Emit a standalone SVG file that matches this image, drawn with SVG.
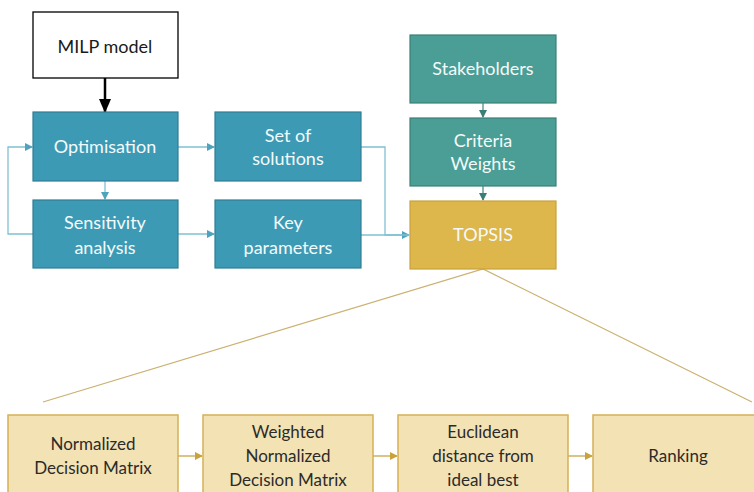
<svg xmlns="http://www.w3.org/2000/svg" width="754" height="492" viewBox="0 0 754 492">
<style>
text{font-family:Lato,"Open Sans","Liberation Sans",sans-serif;font-size:18px;text-anchor:middle}
.w{fill:#f4fafb}
.d{fill:#2b2b2b;font-size:17px}
.blue{fill:#3d9ab5;stroke:#2f7d93;stroke-width:1.2}
.teal{fill:#4a9e95;stroke:#3b8078;stroke-width:1.2}
.gold{fill:#ddb64c;stroke:#c9a23a;stroke-width:1.2}
.cream{fill:#f3e2b3;stroke:#d6b054;stroke-width:1.5}
.cb{fill:none;stroke:#7fc0d3;stroke-width:1.3}
.ct{fill:none;stroke:#4e8f89;stroke-width:1.3}
.cg{fill:none;stroke:#c9a546;stroke-width:1.3}
.zl{fill:none;stroke:#cbb170;stroke-width:1.2}
</style>
<defs>
<marker id="ab" markerWidth="8" markerHeight="8" refX="7" refY="4" orient="auto" markerUnits="userSpaceOnUse"><path d="M0,0 L8,4 L0,8 Z" fill="#4fa3bd"/></marker>
<marker id="at" markerWidth="8" markerHeight="8" refX="7" refY="4" orient="auto" markerUnits="userSpaceOnUse"><path d="M0,0 L8,4 L0,8 Z" fill="#3b7d77"/></marker>
<marker id="ag" markerWidth="8" markerHeight="8" refX="7" refY="4" orient="auto" markerUnits="userSpaceOnUse"><path d="M0,0 L8,4 L0,8 Z" fill="#c9a23a"/></marker>
<marker id="ak" markerWidth="14" markerHeight="12" refX="13" refY="6" orient="auto" markerUnits="userSpaceOnUse"><path d="M0,0 L14,6 L0,12 Z" fill="#000"/></marker>
</defs>
<g id="connectors">
<line x1="105" y1="78" x2="105" y2="112" stroke="#000" stroke-width="2.5" marker-end="url(#ak)"/>
<line class="cb" x1="105" y1="181" x2="105" y2="199" marker-end="url(#ab)"/>
<polyline class="cb" points="33,234 8,234 8,147 32,147" marker-end="url(#ab)"/>
<line class="cb" x1="178" y1="147" x2="214" y2="147" marker-end="url(#ab)"/>
<line class="cb" x1="178" y1="234" x2="214" y2="234" marker-end="url(#ab)"/>
<polyline class="cb" points="361,147 385,147 385,235 409,235" marker-end="url(#ab)"/>
<line class="cb" x1="361" y1="235" x2="409" y2="235"/>
<line class="ct" x1="483" y1="103" x2="483" y2="117" marker-end="url(#at)"/>
<line class="ct" x1="483" y1="186" x2="483" y2="200" marker-end="url(#at)"/>
<polyline class="zl" points="43,402 483,269 752,402"/>
<line class="cg" x1="178" y1="456" x2="202" y2="456" marker-end="url(#ag)"/>
<line class="cg" x1="373" y1="456" x2="397" y2="456" marker-end="url(#ag)"/>
<line class="cg" x1="568" y1="456" x2="592" y2="456" marker-end="url(#ag)"/>
</g>
<g id="milp"><rect x="33" y="12" width="145" height="66" fill="#fff" stroke="#000" stroke-width="1.3"/><text x="105" y="53" style="fill:#1a1a1a">MILP model</text></g>
<g id="optimisation"><rect class="blue" x="33" y="112" width="145" height="69"/><text class="w" x="105" y="153">Optimisation</text></g>
<g id="set-of-solutions"><rect class="blue" x="215" y="112" width="146" height="69"/><text class="w" x="288" y="142">Set of</text><text class="w" x="288" y="165">solutions</text></g>
<g id="sensitivity"><rect class="blue" x="33" y="200" width="145" height="68"/><text class="w" x="105" y="229">Sensitivity</text><text class="w" x="105" y="254">analysis</text></g>
<g id="key-parameters"><rect class="blue" x="215" y="200" width="146" height="68"/><text class="w" x="288" y="229">Key</text><text class="w" x="288" y="254">parameters</text></g>
<g id="stakeholders"><rect class="teal" x="410" y="35" width="146" height="68"/><text class="w" x="483" y="75">Stakeholders</text></g>
<g id="criteria-weights"><rect class="teal" x="410" y="118" width="146" height="68"/><text class="w" x="483" y="147">Criteria</text><text class="w" x="483" y="170">Weights</text></g>
<g id="topsis"><rect class="gold" x="410" y="201" width="146" height="68"/><text class="w" x="483" y="241">TOPSIS</text></g>
<g id="normalized"><rect class="cream" x="8" y="415" width="170" height="85"/><text class="d" x="93" y="450">Normalized</text><text class="d" x="93" y="474">Decision Matrix</text></g>
<g id="weighted"><rect class="cream" x="203" y="415" width="170" height="85"/><text class="d" x="288" y="438">Weighted</text><text class="d" x="288" y="462">Normalized</text><text class="d" x="288" y="486">Decision Matrix</text></g>
<g id="euclidean"><rect class="cream" x="398" y="415" width="170" height="85"/><text class="d" x="483" y="438">Euclidean</text><text class="d" x="483" y="462">distance from</text><text class="d" x="483" y="486">ideal best</text></g>
<g id="ranking"><rect class="cream" x="593" y="415" width="170" height="85"/><text class="d" x="678" y="462">Ranking</text></g>
</svg>
